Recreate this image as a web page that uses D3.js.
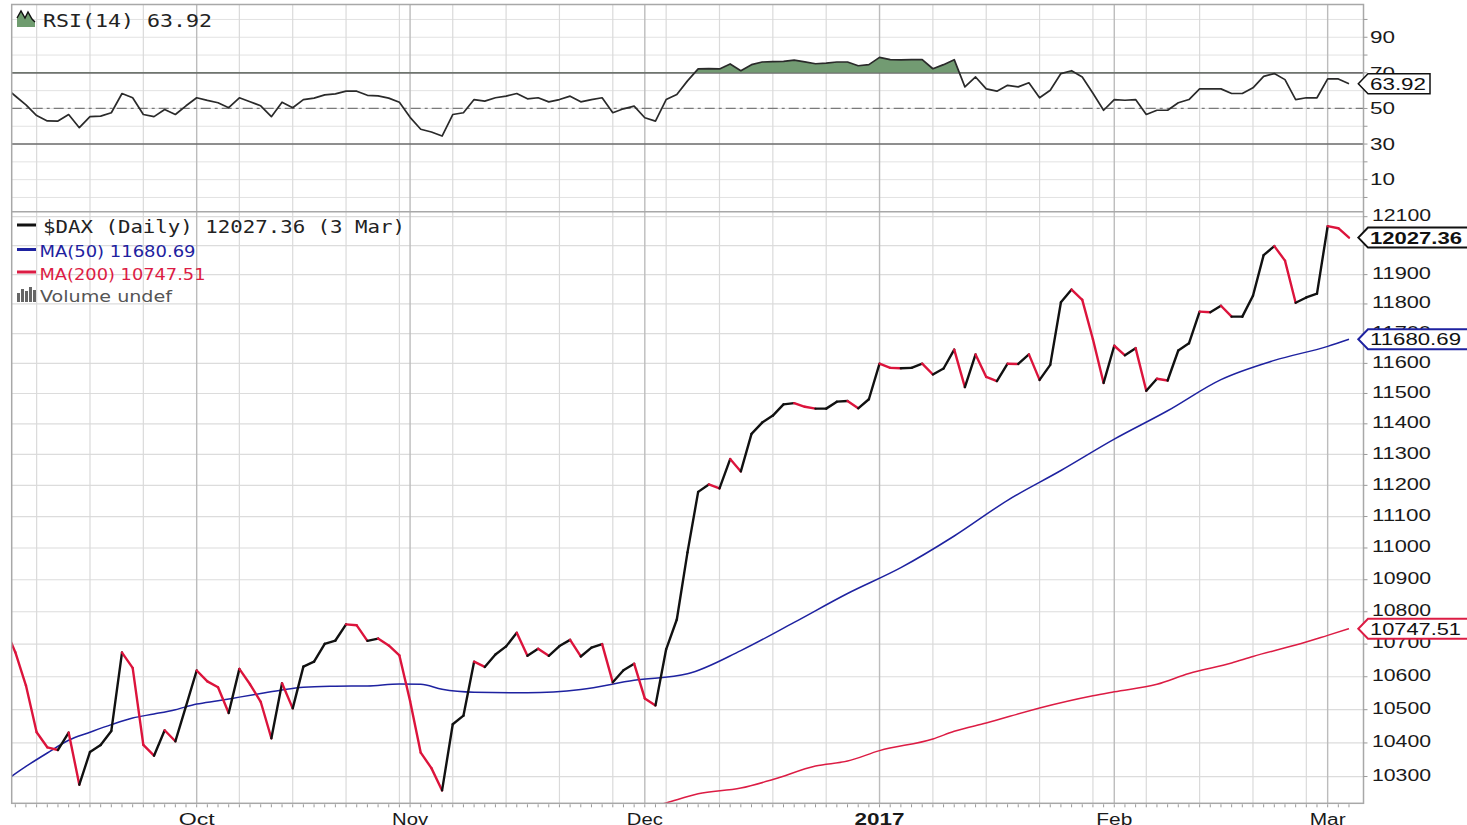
<!DOCTYPE html>
<html><head><meta charset="utf-8">
<script src="https://cdn.jsdelivr.net/npm/d3@7"></script>
<style>html,body{margin:0;padding:0;background:#fff;overflow:hidden}</style>
</head><body>
<svg id="c" width="1467" height="825"></svg>
<script>
// ---------------- DATA ----------------
const dates = [
"2016-09-07","2016-09-08","2016-09-09","2016-09-12","2016-09-13","2016-09-14","2016-09-15","2016-09-16",
"2016-09-19","2016-09-20","2016-09-21","2016-09-22","2016-09-23","2016-09-26","2016-09-27","2016-09-28","2016-09-29","2016-09-30",
"2016-10-04","2016-10-05","2016-10-06","2016-10-07","2016-10-10","2016-10-11","2016-10-12","2016-10-13","2016-10-14",
"2016-10-17","2016-10-18","2016-10-19","2016-10-20","2016-10-21","2016-10-24","2016-10-25","2016-10-26","2016-10-27","2016-10-28","2016-10-31",
"2016-11-01","2016-11-02","2016-11-03","2016-11-04","2016-11-07","2016-11-08","2016-11-09","2016-11-10","2016-11-11",
"2016-11-14","2016-11-15","2016-11-16","2016-11-17","2016-11-18","2016-11-21","2016-11-22","2016-11-23","2016-11-24","2016-11-25",
"2016-11-28","2016-11-29","2016-11-30","2016-12-01","2016-12-02","2016-12-05","2016-12-06","2016-12-07","2016-12-08","2016-12-09",
"2016-12-12","2016-12-13","2016-12-14","2016-12-15","2016-12-16","2016-12-19","2016-12-20","2016-12-21","2016-12-22","2016-12-23",
"2016-12-26","2016-12-27","2016-12-28","2016-12-29","2016-12-30",
"2017-01-02","2017-01-03","2017-01-04","2017-01-05","2017-01-06","2017-01-09","2017-01-10","2017-01-11","2017-01-12","2017-01-13",
"2017-01-16","2017-01-17","2017-01-18","2017-01-19","2017-01-20","2017-01-23","2017-01-24","2017-01-25","2017-01-26","2017-01-27",
"2017-01-30","2017-01-31","2017-02-01","2017-02-02","2017-02-03","2017-02-06","2017-02-07","2017-02-08","2017-02-09","2017-02-10",
"2017-02-13","2017-02-14","2017-02-15","2017-02-16","2017-02-17","2017-02-20","2017-02-21","2017-02-22","2017-02-23","2017-02-24",
"2017-02-27","2017-02-28","2017-03-01","2017-03-02","2017-03-03"];

const closes = [
10752,10675,10573,10432,10387,10379,10431,10276,10373,10394,10436,10674,10627,10394,10362,10438,10405,10511,
10619,10586,10568,10490,10624,10577,10524,10414,10580,10504,10631,10646,10701,10711,10761,10758,10710,10717,10696,10665,
10526,10371,10325,10259,10456,10482,10646,10630,10668,10693,10735,10664,10686,10664,10694,10713,10662,10689,10700,10583,10620,10640,
10534,10513,10684,10776,10986,11179,11203,11190,11285,11245,11367,11404,11427,11464,11468,11456,11450,11450,11473,11475,11451,11481,
11599,11585,11584,11585,11599,11563,11583,11646,11521,11630,11555,11541,11599,11598,11630,11545,11595,11806,11849,11814,11681,11535,
11659,11627,11651,11509,11549,11543,11643,11667,11774,11772,11794,11757,11757,11828,11967,11998,11948,11804,11822,11835,
12067,12060,12027.36];

const rsi14 = [
62,57,52,46,43,42.9,46.6,39.2,45.4,45.7,47.6,58.4,56,46.6,45.4,49.4,46.6,51.5,
56,54.5,53.2,50.4,56,53.8,51.5,45.4,53.5,50.4,55,55.8,57.6,58.2,59.7,59.7,57.4,57.1,55.8,53.5,
45,38.3,36.8,34.5,46.6,47.6,55,54.1,56,56.9,58.4,55.4,56,53.7,55,56.9,53.7,55,56,47.6,49.8,51.3,
44.8,42.9,55,57.8,65.5,72.2,72.4,72.2,75,71.2,74.6,76.1,76.3,76.5,77.2,76.2,75.1,75.5,76.1,76.1,74,74.6,
78.7,77.4,77.3,77.4,77.4,72.3,74.6,77.4,62.1,67.7,61,59.7,63,62.1,64.4,56,60.2,69.6,71.2,67.7,58.5,49,
55,54.6,55,46.6,49,49,53.2,55,61,61,61,58.4,58.4,61.6,68,69.6,66.2,55,56,56,
66.6,66.6,63.92];

const ma50Pts = [
["2016-09-07",10286],["2016-09-09",10330],["2016-09-13",10370],["2016-09-15",10408],["2016-09-19",10432],
["2016-09-21",10455],["2016-09-23",10475],["2016-09-27",10487],["2016-09-29",10500],["2016-10-04",10517],
["2016-10-06",10527],["2016-10-10",10538],["2016-10-12",10549],["2016-10-14",10560],["2016-10-18",10568],
["2016-10-21",10571],["2016-10-26",10572],["2016-10-31",10578],["2016-11-02",10577],["2016-11-04",10562],
["2016-11-09",10553],["2016-11-16",10551],["2016-11-23",10561],["2016-11-30",10589],["2016-12-07",10609],
["2016-12-14",10680],["2016-12-21",10767],["2016-12-28",10857],["2017-01-04",10938],["2017-01-11",11038],
["2017-01-18",11152],["2017-01-25",11248],["2017-02-01",11350],["2017-02-08",11443],["2017-02-15",11546],
["2017-02-22",11610],["2017-03-01",11657],["2017-03-03",11680.69]];

const ma200Pts = [
["2016-11-29",10188],["2016-12-05",10222],["2016-12-08",10249],["2016-12-14",10266],["2016-12-19",10291],
["2016-12-23",10331],["2016-12-28",10346],["2017-01-02",10377],["2017-01-09",10412],["2017-01-11",10435],
["2017-01-16",10460],["2017-01-23",10505],["2017-01-30",10542],["2017-02-01",10554],["2017-02-07",10577],
["2017-02-10",10610],["2017-02-16",10642],["2017-02-20",10662],["2017-02-24",10697],["2017-03-01",10727],
["2017-03-03",10747.51]];

const priceGrid = [10300,10400,10500,10600,10700,10800,10900,11000,11100,11200,11300,11400,11500,11600,11700,11800,11900,12000,12100];
const priceLabels = [10300,10400,10500,10600,10700,10800,10900,11000,11100,11200,11300,11400,11500,11600,11700,11800,11900,12100];
const rsiTicks = [10,30,50,70,90];
const rsiGrid = [0,10,20,30,40,50,60,70,80,90,100];
const monthLabels = [["2016-10-04","Oct"],["2016-11-01","Nov"],["2016-12-01","Dec"],["2017-01-02","2017"],["2017-02-01","Feb"],["2017-03-01","Mar"]];
const lastClose = "12027.36", lastMa50 = "11680.69", lastMa200 = "10747.51", lastRsi = "63.92";

// ---------------- LAYOUT ----------------
const L = 11.7, R = 1363.5, T = 4.5, MID = 211.7, B = 803.3;
const svg = d3.select("#c");
const n = dates.length;
const x = d3.scaleLinear().domain([1, n - 1]).range([15.3, 1349]);
const yR = d3.scaleLinear().domain([-8, 108.4]).range([MID, T]);
const yP = d3.scaleLog().domain([10221, 12117.4]).range([B, MID]);
const idx = new Map(dates.map((d, i) => [d, i]));
const parse = d3.timeParse("%Y-%m-%d");
const dts = dates.map(parse);

const defs = svg.append("defs");
defs.append("clipPath").attr("id","cp").append("rect").attr("x",L).attr("y",MID).attr("width",R-L).attr("height",B-MID);
defs.append("clipPath").attr("id","cr").append("rect").attr("x",L).attr("y",T).attr("width",R-L).attr("height",MID-T);
defs.append("clipPath").attr("id","c70").append("rect").attr("x",L).attr("y",T).attr("width",R-L).attr("height",yR(70)-T);

// grids
const g = svg.append("g");
rsiGrid.forEach(v => g.append("line").attr("x1",L).attr("x2",R).attr("y1",yR(v)).attr("y2",yR(v)).attr("stroke","#e2e2e2").attr("stroke-width",1));
priceGrid.forEach(v => g.append("line").attr("x1",L).attr("x2",R).attr("y1",yP(v)).attr("y2",yP(v)).attr("stroke","#dcdcdc").attr("stroke-width",1.2));
for (let i = 1; i < n; i++) {
  const month = dts[i].getMonth() !== dts[i-1].getMonth();
  const week = dts[i].getDay() < dts[i-1].getDay();
  if (month || week) {
    g.append("line").attr("x1",x(i)).attr("x2",x(i)).attr("y1",T).attr("y2",B)
      .attr("stroke", month ? "#bcbcbc" : "#dadada").attr("stroke-width", month ? 1.4 : 1.2);
  }
}

// RSI reference lines
g.append("line").attr("x1",L).attr("x2",R).attr("y1",yR(70)).attr("y2",yR(70)).attr("stroke","#6e6e6e").attr("stroke-width",1.6);
g.append("line").attr("x1",L).attr("x2",R).attr("y1",yR(30)).attr("y2",yR(30)).attr("stroke","#6e6e6e").attr("stroke-width",1.6);
g.append("line").attr("x1",L).attr("x2",R).attr("y1",yR(50)).attr("y2",yR(50)).attr("stroke","#7a7a7a").attr("stroke-width",1.3).attr("stroke-dasharray","10,4,3,4");

// RSI fill above 70
svg.append("path").datum(rsi14).attr("clip-path","url(#c70)")
  .attr("d", d3.area().x((d,i)=>x(i)).y0(yR(70)).y1(d=>yR(d)))
  .attr("fill","#729b72");
// RSI line
svg.append("path").datum(rsi14).attr("clip-path","url(#cr)")
  .attr("d", d3.line().x((d,i)=>x(i)).y(d=>yR(d)))
  .attr("fill","none").attr("stroke","#2a2a2a").attr("stroke-width",1.7).attr("stroke-linejoin","round");

// Moving averages
const maLine = d3.line().x(d=>x(idx.get(d[0]))).y(d=>yP(d[1])).curve(d3.curveMonotoneX);
svg.append("path").datum(ma200Pts).attr("clip-path","url(#cp)").attr("d",maLine)
  .attr("fill","none").attr("stroke","#dc1c44").attr("stroke-width",1.5);
svg.append("path").datum(ma50Pts).attr("clip-path","url(#cp)").attr("d",maLine)
  .attr("fill","none").attr("stroke","#1e22a0").attr("stroke-width",1.5);

// Close line, coloured by direction
const cg = svg.append("g").attr("clip-path","url(#cp)");
for (let i = 1; i < n; i++) {
  cg.append("line").attr("x1",x(i-1)).attr("y1",yP(closes[i-1])).attr("x2",x(i)).attr("y2",yP(closes[i]))
    .attr("stroke", closes[i] >= closes[i-1] ? "#111" : "#dc143c").attr("stroke-width",2.4).attr("stroke-linecap","round");
}

// frame
svg.append("rect").attr("x",L).attr("y",T).attr("width",R-L).attr("height",B-T).attr("fill","none").attr("stroke","#a8a8a8").attr("stroke-width",1.5);
svg.append("line").attr("x1",L).attr("x2",R).attr("y1",MID).attr("y2",MID).attr("stroke","#a8a8a8").attr("stroke-width",1.5);

// right ticks + labels
const ax = svg.append("g").attr("font-family","'Liberation Sans', Arial, sans-serif").attr("font-size",16).attr("fill","#1a1a1a");
rsiGrid.forEach(v => ax.append("line").attr("x1",R).attr("x2",R+4).attr("y1",yR(v)).attr("y2",yR(v)).attr("stroke","#999"));
rsiTicks.forEach(v => ax.append("text").attr("x",1370).attr("y",yR(v)).attr("dy","0.36em")
  .attr("textLength",25).attr("lengthAdjust","spacingAndGlyphs").text(v));
priceGrid.forEach(v => ax.append("line").attr("x1",R).attr("x2",R+4).attr("y1",yP(v)).attr("y2",yP(v)).attr("stroke","#999"));
priceLabels.forEach(v => ax.append("text").attr("x",1372).attr("y",yP(v)-1.5).attr("dy","0.36em")
    .attr("textLength",59).attr("lengthAdjust","spacingAndGlyphs").text(v));

// bottom day ticks + month labels
for (let i = 0; i < n; i++) {
  if (x(i) > L) svg.append("line").attr("x1",x(i)).attr("x2",x(i)).attr("y1",B+1).attr("y2",B+4).attr("stroke","#999");
}
monthLabels.forEach(([d, lab]) => {
  const bold = lab === "2017";
  svg.append("text").attr("x",x(idx.get(d))).attr("y",825).attr("text-anchor","middle")
    .attr("font-family","'Liberation Sans', Arial, sans-serif").attr("font-size",16)
    .attr("font-weight", bold ? "bold" : "normal").attr("fill","#1a1a1a")
    .attr("textLength", bold ? 50 : 36).attr("lengthAdjust","spacingAndGlyphs").text(lab);
});

// value tags
function tag(cy, right, stroke, sw, label, bold, tlen) {
  const h = 10;
  svg.append("path").attr("d",`M1358.3,${cy} L1368,${cy-h} L${right},${cy-h} L${right},${cy+h} L1368,${cy+h} Z`)
    .attr("fill","#fff").attr("stroke",stroke).attr("stroke-width",sw);
  svg.append("text").attr("x",1370).attr("y",cy).attr("dy","0.36em")
    .attr("font-family","'Liberation Sans', Arial, sans-serif").attr("font-size",17)
    .attr("font-weight", bold ? "bold" : "normal").attr("fill","#111")
    .attr("textLength",tlen).attr("lengthAdjust","spacingAndGlyphs").text(label);
}
tag(yR(+lastRsi), 1430, "#111", 1.5, lastRsi, false, 56);
tag(yP(+lastClose), 1480, "#111", 2, lastClose, true, 92);
tag(yP(+lastMa50), 1480, "#1e22a0", 2, lastMa50, false, 91);
tag(yP(+lastMa200), 1480, "#dc1c44", 2, lastMa200, false, 91);

// legends
const mono = "'DejaVu Sans Mono', monospace", sans = "'DejaVu Sans', Verdana, sans-serif";
svg.append("path").attr("d","M17,27 L17,18 L21,11 L25,18 L28,12 L32,19 L35,22 L35,27 Z").attr("fill","#6f9c6f");
svg.append("path").attr("d","M17,18 L21,11 L25,18 L28,12 L32,19 L35,22").attr("fill","none").attr("stroke","#111").attr("stroke-width",1.4);
svg.append("text").attr("x",43).attr("y",27).attr("font-family",mono).attr("font-size",17).attr("fill","#222")
  .attr("textLength",169).attr("lengthAdjust","spacingAndGlyphs").text(`RSI(14) ${lastRsi}`);

svg.append("line").attr("x1",17).attr("x2",36).attr("y1",225).attr("y2",225).attr("stroke","#111").attr("stroke-width",3);
svg.append("text").attr("x",43).attr("y",233).attr("font-family",mono).attr("font-size",17).attr("fill","#222")
  .attr("textLength",362).attr("lengthAdjust","spacingAndGlyphs").text(`$DAX (Daily) ${lastClose} (3 Mar)`);
svg.append("line").attr("x1",17).attr("x2",36).attr("y1",249.5).attr("y2",249.5).attr("stroke","#1e22a0").attr("stroke-width",3);
svg.append("text").attr("x",39.5).attr("y",256.5).attr("font-family",sans).attr("font-size",16).attr("fill","#1e22a0")
  .attr("textLength",156).attr("lengthAdjust","spacingAndGlyphs").text(`MA(50) ${lastMa50}`);
svg.append("line").attr("x1",17).attr("x2",36).attr("y1",272).attr("y2",272).attr("stroke","#dc1c44").attr("stroke-width",3);
svg.append("text").attr("x",39.5).attr("y",279.5).attr("font-family",sans).attr("font-size",16).attr("fill","#dc1c44")
  .attr("textLength",166).attr("lengthAdjust","spacingAndGlyphs").text(`MA(200) ${lastMa200}`);
[[17,293],[21,289],[25,291],[29,287],[33,290]].forEach(([bx,by]) =>
  svg.append("rect").attr("x",bx).attr("y",by).attr("width",3).attr("height",302-by).attr("fill","#666"));
svg.append("text").attr("x",40).attr("y",301.5).attr("font-family",sans).attr("font-size",16).attr("fill","#555")
  .attr("textLength",132).attr("lengthAdjust","spacingAndGlyphs").text("Volume undef");
</script>
</body></html>
